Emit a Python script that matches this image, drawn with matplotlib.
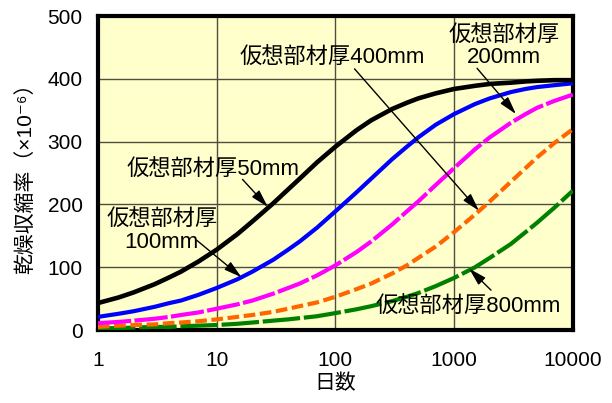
import matplotlib
matplotlib.use('Agg')
import matplotlib.pyplot as plt

plt.rcParams['font.family'] = ['Liberation Sans', 'Noto Sans CJK JP', 'DejaVu Sans']

# Days (log axis)
days = [1, 1.5, 2, 3, 4, 5, 7, 10, 15, 20, 30, 40, 50, 70, 100, 150, 200, 300, 400,
        500, 700, 1000, 1500, 2000, 3000, 4000, 5000, 7000, 10000]

# Drying shrinkage (x10^-6), by member thickness
shrink_50 = [43, 52, 60, 73, 84, 93, 109, 128, 153, 173, 202, 224, 241, 267, 292, 318,
             334, 352, 362, 369, 377, 384, 389, 392, 394, 396, 397, 398, 398]
shrink_100 = [21, 26, 30, 37, 43, 47, 56, 67, 81, 93, 112, 128, 141, 163, 189, 219,
              241, 272, 292, 307, 327, 344, 360, 369, 379, 384, 387, 390, 393]
shrink_200 = [11, 13, 15, 18, 21, 24, 28, 34, 41, 47, 58, 67, 74, 87, 103, 124,
              141, 168, 189, 205, 231, 258, 288, 307, 330, 344, 354, 365, 375]
shrink_400 = [5, 7, 8, 9, 11, 12, 14, 17, 21, 24, 29, 34, 38, 44, 53, 65,
              74, 90, 103, 115, 133, 156, 184, 205, 236, 258, 275, 298, 320]
shrink_800 = [3, 3, 4, 5, 5, 6, 7, 8, 10, 12, 15, 17, 19, 22, 27, 33,
              38, 46, 53, 59, 70, 83, 100, 115, 137, 156, 171, 195, 222]

x_ticks = [1, 10, 100, 1000, 10000]
y_ticks = [0, 100, 200, 300, 400, 500]

fig = plt.figure(figsize=(6.12, 4.03), dpi=100)
ax = fig.add_axes([0.160, 0.181, 0.776, 0.779])
ax.set_facecolor('#FFFFCC')

ax.plot(days, shrink_800, color='#008000', lw=3, dashes=(9, 0.9), zorder=3)
ax.plot(days, shrink_400, color='#FF6600', lw=3, dashes=(2.8, 1.1), zorder=3)
ax.plot(days, shrink_200, color='#FF00FF', lw=3, dashes=(8, 0.8), zorder=3)
ax.plot(days, shrink_100, color='#0000FF', lw=3, zorder=4)
ax.plot(days, shrink_50, color='black', lw=3.3, zorder=5)

ax.set_xscale('log')
ax.set_xlim(1, 10000)
ax.set_ylim(0, 500)
ax.set_xticks(x_ticks)
ax.set_xticklabels([str(v) for v in x_ticks])
ax.set_yticks(y_ticks)
ax.minorticks_off()
ax.tick_params(length=0, labelsize=15, pad=11)
ax.tick_params(axis='x', pad=15)
ax.grid(True, color='#4d4d40', lw=1, zorder=1)
for s in ax.spines.values():
    s.set_linewidth(3)

ax.set_xlabel('日数', fontsize=15, labelpad=3)
ax.set_ylabel('乾燥収縮率（×10⁻⁶）', fontsize=15, labelpad=9)

fs = 16
arrow = dict(arrowstyle='-|>,head_length=0.9,head_width=0.25', color='black',
             lw=1, mutation_scale=12, shrinkA=0, shrinkB=0)

# 50mm
ax.text(9.3, 254, '仮想部材厚50mm', fontsize=fs, ha='center', va='center', zorder=6)
ax.annotate('', xy=(27, 196), xytext=(16.5, 240), arrowprops=arrow, zorder=6)
# 100mm
ax.text(3.45, 157, '仮想部材厚\n100mm', fontsize=fs, ha='center', va='center',
        linespacing=1.05, zorder=6)
ax.annotate('', xy=(16.2, 84), xytext=(6.8, 143), arrowprops=arrow, zorder=6)
# 400mm
ax.text(94, 433, '仮想部材厚400mm', fontsize=fs, ha='center', va='center', zorder=6)
ax.annotate('', xy=(1620, 190), xytext=(145, 416), arrowprops=arrow, zorder=6)
# 200mm
ax.text(2650, 451, '仮想部材厚\n200mm', fontsize=fs, ha='center', va='center',
        linespacing=1.05, zorder=6)
ax.annotate('', xy=(3320, 344), xytext=(1560, 417), arrowprops=arrow, zorder=6)
# 800mm
ax.text(1310, 36.5, '仮想部材厚800mm', fontsize=fs, ha='center', va='center', zorder=6)
ax.annotate('', xy=(1336, 98), xytext=(2046, 63.5), arrowprops=arrow, zorder=6)

fig.savefig('out.png', dpi=100)
